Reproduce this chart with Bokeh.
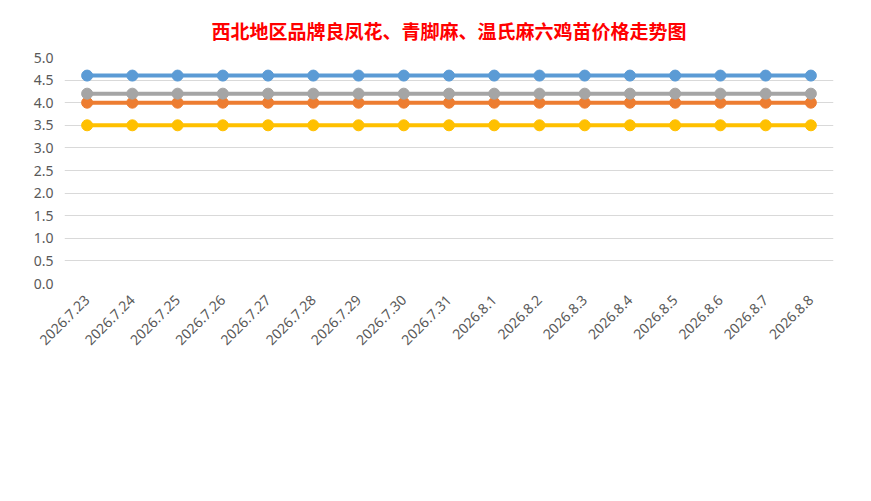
import math
from bokeh.plotting import figure
from bokeh.models import FactorRange, Range1d, Legend, LegendItem, SingleIntervalTicker, NumeralTickFormatter
from bokeh.embed import file_html
from bokeh.resources import INLINE

dates = ["2026.7.23","2026.7.24","2026.7.25","2026.7.26","2026.7.27","2026.7.28","2026.7.29","2026.7.30","2026.7.31",
         "2026.8.1","2026.8.2","2026.8.3","2026.8.4","2026.8.5","2026.8.6","2026.8.7","2026.8.8"]
s_lfh = [4.6]*17
s_lml = [4.0]*17
s_qjm = [4.2]*17
s_xpm = [3.5]*17
series = [("良凤花公苗（品牌）", s_lfh, "#5B9BD5"),
          ("老麻六公苗（品牌）", s_lml, "#ED7D31"),
          ("青脚麻公苗(品牌)", s_qjm, "#A5A5A5"),
          ("新陂麻公苗（品牌）", s_xpm, "#FFC000")]

p = figure(frame_width=769, frame_height=226, x_range=FactorRange(*dates, range_padding=0), y_range=Range1d(0, 5.0),
           output_backend="svg", toolbar_location=None,
           min_border_left=64, min_border_right=22, min_border_top=10, min_border_bottom=10)
p.title.text = "西北地区品牌良凤花、青脚麻、温氏麻六鸡苗价格走势图"
p.title.align = "center"
p.title.text_color = "#FF0000"
p.title.text_font = "Noto Sans CJK SC"
p.title.text_font_size = "19px"
p.title.standoff = 28
p.outline_line_color = None
p.border_fill_color = "white"
p.xgrid.grid_line_color = None
p.ygrid.grid_line_color = "#D9D9D9"
p.yaxis.ticker = SingleIntervalTicker(interval=0.5)
p.yaxis.formatter = NumeralTickFormatter(format="0.0")
for ax in (p.xaxis, p.yaxis):
    ax.axis_line_color = None
    ax.major_tick_line_color = None
    ax.minor_tick_line_color = None
    ax.major_label_text_font = "Noto Sans"
    ax.major_label_text_font_size = "14px"
    ax.major_label_text_color = "#595959"
p.xaxis.major_label_orientation = math.pi/4
p.xaxis.major_label_standoff = 8

items = []
for name, vals, col in series:
    r = p.line(dates, vals, line_color=col, line_width=4)
    c = p.scatter(dates, vals, size=11, fill_color=col, line_color=col)
    items.append(LegendItem(label=name, renderers=[r, c]))
order = [items[0], items[2], items[1], items[3]]
leg = Legend(items=order, ncols=2, border_line_color=None, label_text_font="Noto Sans CJK SC",
             label_text_font_size="15px", label_text_color="#595959", glyph_width=40, spacing=6,
             margin=8, padding=6, label_standoff=6, location="center")
p.add_layout(leg, "below")

open("out.html", "w").write(file_html(p, INLINE))
